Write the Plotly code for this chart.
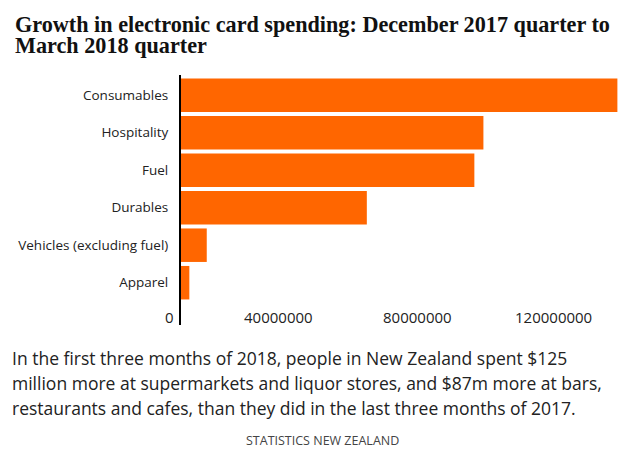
import plotly.graph_objects as go

categories = ["Apparel", "Vehicles (excluding fuel)", "Durables", "Fuel", "Hospitality", "Consumables"]
values = [2.4e6, 7.4e6, 53.4e6, 84.3e6, 86.9e6, 125.4e6]
tick_values = [0, 40000000, 80000000, 120000000]
tick_labels = ["0", "40000000", "80000000", "120000000"]

title_lines = ["Growth in electronic card spending: December 2017 quarter to", "March 2018 quarter"]
caption_lines = [
    "In the first three months of 2018, people in New Zealand spent $125",
    "million more at supermarkets and liquor stores, and $87m more at bars,",
    "restaurants and cafes, than they did in the last three months of 2017.",
]
source = "STATISTICS NEW ZEALAND"

# page body has an 8px margin; the figure is sized to fit the window
OFF = 8
W, H = 630 - OFF, 449 - OFF
PL, PR, PT, PB = 181, 625, 75, 325   # plot box in window pixels
L, R, T, B = PL - OFF, W - (PR - OFF), PT - OFF, H - (PB - OFF)
plot_w = PR - PL
plot_h = PB - PT


def px(xw):
    return (xw - PL) / plot_w


def py(yw):
    return (PB - yw) / plot_h


fig = go.Figure(go.Bar(
    x=values, y=categories, orientation="h",
    marker=dict(color="#ff6600", line=dict(width=0)),
    hoverinfo="skip",
))

annotations = []
for v, t in zip(tick_values, tick_labels):
    annotations.append(dict(
        x=v, xref="x", y=py(317), yref="paper",
        text=t, showarrow=False, xanchor="right", yanchor="middle", xshift=-5,
        font=dict(family="Open Sans", size=15, color="#222"),
    ))
for i, line in enumerate(title_lines):
    annotations.append(dict(
        x=px(13), xref="paper", y=py(24 + 21.5 * i), yref="paper",
        text="<b>" + line + "</b>", showarrow=False, xanchor="left", yanchor="middle",
        font=dict(family="Liberation Serif", size=22.2, color="#111"),
    ))
for i, line in enumerate(caption_lines):
    annotations.append(dict(
        x=px(10), xref="paper", y=py(358 + 25 * i), yref="paper",
        text=line, showarrow=False, xanchor="left", yanchor="middle",
        font=dict(family="Open Sans", size=17.5, color="#222"),
    ))
annotations.append(dict(
    x=px(322), xref="paper", y=py(440), yref="paper",
    text=source, showarrow=False, xanchor="center", yanchor="middle",
    font=dict(family="Open Sans", size=12.5, color="#444"),
))

fig.update_layout(
    width=W, height=H,
    margin=dict(l=L, r=R, t=T, b=B, pad=0),
    paper_bgcolor="white", plot_bgcolor="white",
    bargap=0.107,
    showlegend=False,
    xaxis=dict(range=[0, plot_w / 139.2 * 40e6], showgrid=False, zeroline=False,
               showticklabels=False, ticks="", showline=False, fixedrange=True),
    yaxis=dict(categoryorder="array", categoryarray=categories,
               range=[-1.128, 5.539], showgrid=False, zeroline=False,
               showline=True, linecolor="black", linewidth=2,
               ticks="outside", ticklen=8, tickcolor="rgba(0,0,0,0)",
               tickfont=dict(family="Open Sans", size=13.5, color="#222"), fixedrange=True),
    annotations=annotations,
)

fig.write_html("out.html")
